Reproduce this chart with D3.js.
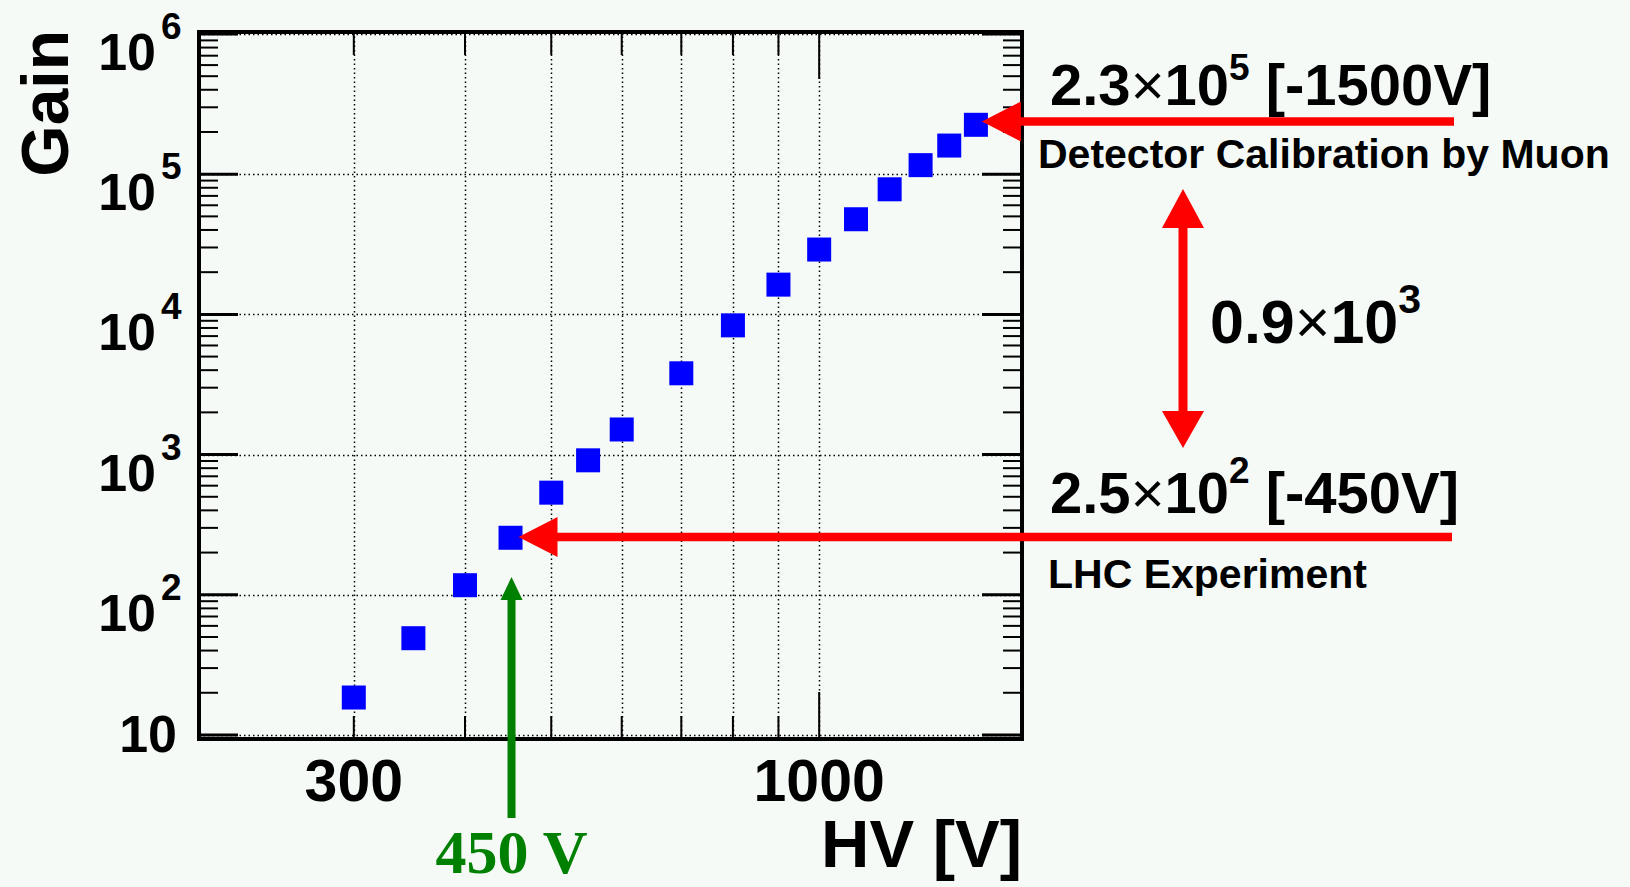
<!DOCTYPE html>
<html>
<head>
<meta charset="utf-8">
<script src="https://cdn.jsdelivr.net/npm/d3@7"></script>
<style>
  html, body { margin: 0; padding: 0; background: #f5faf7; }
  svg { display: block; }
  text { font-family: "Liberation Sans", Arial, Helvetica, sans-serif; font-weight: bold; fill: #000; }
</style>
</head>
<body>
<svg id="chart" width="1630" height="887"></svg>
<script>
// ---- data ----
const hv   = [300, 350, 400, 450, 500, 550, 600, 700, 800, 900, 1000, 1100, 1200, 1300, 1400, 1500];
const gain = [18.5, 49, 117, 255, 535, 910, 1510, 3800, 8350, 16300, 29000, 47700, 78000, 116000, 160000, 225000];

const xGridValues  = [300, 400, 500, 600, 700, 800, 900, 1000];
const xMajorTicks  = [1000];
const xTickLabels  = [300, 1000];
const yDecades     = [10, 100, 1000, 10000, 100000, 1000000];
const yTickLabels  = ["10", "10^2", "10^3", "10^4", "10^5", "10^6"];

const xDomain = [201, 1690];
const yDomain = [9.36, 1.033e6];

// annotations (values)
const topAnnot = { hv: 1500, gain: 2.3e5, mant: "2.3", exp: "5", volt: " [-1500V]", note: "Detector Calibration by Muon" };
const lowAnnot = { hv: 450,  gain: 2.5e2, mant: "2.5", exp: "2", volt: " [-450V]",  note: "LHC Experiment" };
const ratio    = { mant: "0.9", exp: "3" };
const hvMark   = { hv: 450, label: "450 V" };

// ---- layout ----
const svg = d3.select("#chart");
const x = d3.scaleLog().domain(xDomain).range([199, 1022]);
const y = d3.scaleLog().domain(yDomain).range([739, 32]);
const x0 = x(xDomain[0]), x1 = x(xDomain[1]);
const y0 = y(yDomain[0]), y1 = y(yDomain[1]);

svg.append("rect").attr("width", 1630).attr("height", 887).attr("fill", "#f5faf7");

// grid (dotted)
const grid = svg.append("g").attr("stroke", "#000").attr("stroke-width", 1.5).attr("stroke-dasharray", "1.5,3");
grid.selectAll(".gx").data(xGridValues).join("line")
  .attr("x1", d => Math.round(x(d)) + 0.5).attr("x2", d => Math.round(x(d)) + 0.5).attr("y1", y1).attr("y2", y0);
grid.selectAll(".gy").data(yDecades).join("line")
  .attr("x1", x0).attr("x2", x1).attr("y1", d => Math.round(y(d)) + 0.5).attr("y2", d => Math.round(y(d)) + 0.5);

// y ticks (left & right)
const yMinor = [];
for (const d of yDecades.slice(0, -1)) for (let k = 2; k <= 9; k++) yMinor.push(d * k);
const ticks = svg.append("g").attr("stroke", "#000").attr("stroke-width", 2);
ticks.selectAll(".ylm").data(yMinor).join("line")
  .attr("x1", x0).attr("x2", x0 + 19).attr("y1", d => y(d)).attr("y2", d => y(d));
ticks.selectAll(".yrm").data(yMinor).join("line")
  .attr("x1", x1 - 19).attr("x2", x1).attr("y1", d => y(d)).attr("y2", d => y(d));
ticks.selectAll(".ylM").data(yDecades).join("line")
  .attr("x1", x0).attr("x2", x0 + 39).attr("y1", d => y(d)).attr("y2", d => y(d)).attr("stroke-width", 3);
ticks.selectAll(".yrM").data(yDecades).join("line")
  .attr("x1", x1 - 40).attr("x2", x1).attr("y1", d => y(d)).attr("y2", d => y(d)).attr("stroke-width", 3);

// x ticks (bottom & top)
const xLen = d => xMajorTicks.includes(d) ? 47 : 23;
ticks.selectAll(".xb").data(xGridValues).join("line")
  .attr("x1", d => x(d)).attr("x2", d => x(d)).attr("y1", y0).attr("y2", d => y0 - xLen(d));
ticks.selectAll(".xt").data(xGridValues).join("line")
  .attr("x1", d => x(d)).attr("x2", d => x(d)).attr("y1", y1).attr("y2", d => y1 + xLen(d));

// frame
svg.append("rect").attr("x", x0).attr("y", y1).attr("width", x1 - x0).attr("height", y0 - y1)
  .attr("fill", "none").attr("stroke", "#000").attr("stroke-width", 4);

// y tick labels
const ylab = svg.append("g");
yDecades.forEach((d, i) => {
  const lab = yTickLabels[i];
  if (lab.indexOf("^") < 0) {
    ylab.append("text").attr("x", 177).attr("y", y(d) + 17).attr("text-anchor", "end")
      .attr("font-size", 52).text(lab);
  } else {
    const [b, e] = lab.split("^");
    ylab.append("text").attr("x", 156).attr("y", y(d) + 36).attr("text-anchor", "end")
      .attr("font-size", 52).text(b);
    ylab.append("text").attr("x", 161).attr("y", y(d) + 5).attr("text-anchor", "start")
      .attr("font-size", 37).text(e);
  }
});

// x tick labels
svg.append("g").selectAll("text").data(xTickLabels).join("text")
  .attr("x", d => x(d)).attr("y", 801).attr("text-anchor", "middle").attr("font-size", 59)
  .text(d => d);

// axis titles
svg.append("text").attr("x", 1022).attr("y", 867).attr("text-anchor", "end").attr("font-size", 67).text("HV [V]");
svg.append("text").attr("transform", "translate(68,30) rotate(-90)").attr("text-anchor", "end")
  .attr("font-size", 66).text("Gain");

// data markers
svg.append("g").selectAll("rect").data(hv.map((h, i) => [h, gain[i]])).join("rect")
  .attr("x", d => x(d[0]) - 12).attr("y", d => y(d[1]) - 12)
  .attr("width", 24).attr("height", 24).attr("fill", "#0000ff");

// ---- annotations ----
const red = "#ff0000";
function leftArrow(tipX, yy, endX) {
  svg.append("line").attr("x1", tipX + 36).attr("x2", endX).attr("y1", yy).attr("y2", yy)
    .attr("stroke", red).attr("stroke-width", 8.5);
  svg.append("path").attr("d", `M${tipX},${yy} L${tipX + 39},${yy - 20} L${tipX + 39},${yy + 20} Z`).attr("fill", red);
}
function expLabel(xx, yy, size, mant, exp, tail, supSize, supDy) {
  const t = svg.append("text").attr("x", xx).attr("y", yy).attr("font-size", size);
  t.append("tspan").text(mant);
  t.append("tspan").attr("font-weight", "normal").text("\u00d7");
  t.append("tspan").text("10");
  t.append("tspan").attr("font-size", supSize).attr("dy", -supDy).text(exp);
  if (tail) t.append("tspan").attr("dy", supDy).text(tail);
}

// top: 2.3x10^5
leftArrow(x(topAnnot.hv) + 6, y(topAnnot.gain) - 2, 1454);
expLabel(1050, 105, 58, topAnnot.mant, topAnnot.exp, topAnnot.volt, 37, 25);
svg.append("text").attr("x", 1038).attr("y", 168).attr("font-size", 41).text(topAnnot.note);

// lower: 2.5x10^2
leftArrow(x(lowAnnot.hv) + 8, y(lowAnnot.gain) - 2, 1452);
expLabel(1050, 513, 58, lowAnnot.mant, lowAnnot.exp, lowAnnot.volt, 37, 30);
svg.append("text").attr("x", 1048).attr("y", 588).attr("font-size", 41).text(lowAnnot.note);

// double arrow
const ax = 1183, aTop = 189, aBot = 448;
svg.append("line").attr("x1", ax).attr("x2", ax).attr("y1", aTop + 35).attr("y2", aBot - 35)
  .attr("stroke", red).attr("stroke-width", 9);
svg.append("path").attr("d", `M${ax},${aTop} L${ax - 21},${aTop + 39} L${ax + 21},${aTop + 39} Z`).attr("fill", red);
svg.append("path").attr("d", `M${ax},${aBot} L${ax - 21},${aBot - 37} L${ax + 21},${aBot - 37} Z`).attr("fill", red);
expLabel(1210, 343, 61, ratio.mant, ratio.exp, null, 41, 30);

// green HV marker
const green = "#008000";
const gx = x(hvMark.hv) + 1;
svg.append("line").attr("x1", gx).attr("x2", gx).attr("y1", 596).attr("y2", 818)
  .attr("stroke", green).attr("stroke-width", 8);
svg.append("path").attr("d", `M${gx},577 L${gx - 11},600 L${gx + 11},600 Z`).attr("fill", green);
svg.append("text").attr("x", gx).attr("y", 873).attr("text-anchor", "middle")
  .style("font-family", "'Liberation Serif', 'Times New Roman', serif").style("font-weight", "bold")
  .attr("font-size", 62).style("fill", green).text(hvMark.label);
</script>
</body>
</html>
